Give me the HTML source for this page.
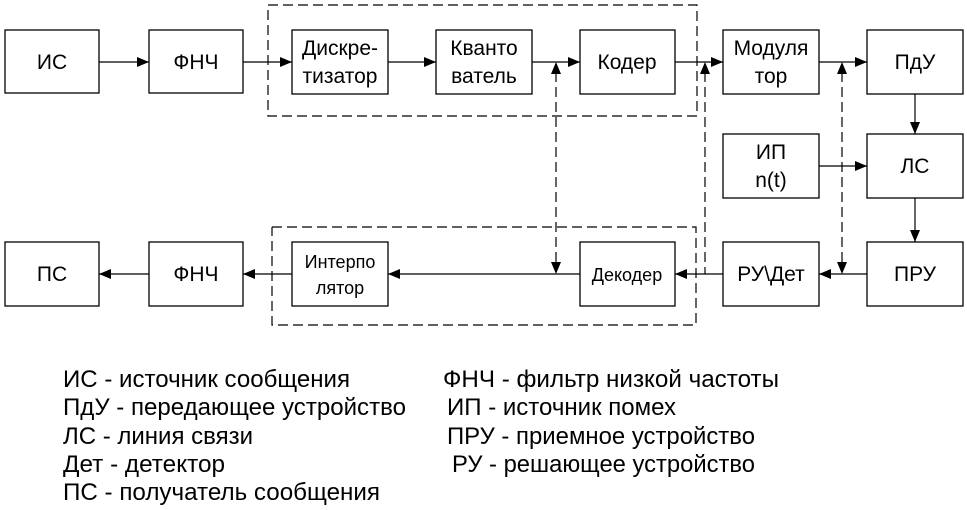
<!DOCTYPE html>
<html><head><meta charset="utf-8"><style>body{margin:0;background:#fff}svg{display:block}</style></head><body>
<svg width="967" height="510" viewBox="0 0 967 510" xmlns="http://www.w3.org/2000/svg" font-family="'Liberation Sans', 'DejaVu Sans', sans-serif">
<defs>
<marker id="a" markerWidth="12" markerHeight="10" refX="12" refY="5" orient="auto" markerUnits="userSpaceOnUse"><path d="M0,0 L12,5 L0,10 Z" fill="#000"/></marker>
</defs>
<g fill="#fff" stroke="#000" stroke-width="1.3">
<rect x="5" y="30" width="94" height="63"/>
<rect x="149" y="30" width="94" height="63"/>
<rect x="292" y="30" width="96" height="64"/>
<rect x="436" y="30" width="96" height="64"/>
<rect x="580" y="30" width="95" height="64"/>
<rect x="723" y="30" width="96" height="64"/>
<rect x="867" y="30" width="96" height="64"/>
<rect x="723" y="134" width="96" height="64"/>
<rect x="867" y="134" width="96" height="64"/>
<rect x="723" y="242" width="96" height="64"/>
<rect x="867" y="242" width="96" height="64"/>
<rect x="580" y="242" width="95" height="64"/>
<rect x="292" y="242" width="96" height="64"/>
<rect x="149" y="242" width="94" height="64"/>
<rect x="5" y="242" width="94" height="64"/>
</g>
<g stroke="#000" stroke-width="1.2" fill="none" stroke-dasharray="10,5">
<polyline points="268,5 697,5 697,116 268,116 268,5"/>
<polyline points="272,227 696,227 696,325 272,325 272,227"/>
</g>
<g stroke="#000" stroke-width="1.2" fill="none" marker-end="url(#a)">
<line x1="99" y1="62" x2="149" y2="62"/>
<line x1="243" y1="62" x2="292" y2="62"/>
<line x1="388" y1="62" x2="436" y2="62"/>
<line x1="532" y1="62" x2="580" y2="62"/>
<line x1="675" y1="62" x2="723" y2="62"/>
<line x1="819" y1="62" x2="867" y2="62"/>
<line x1="915" y1="94" x2="915" y2="134"/>
<line x1="819" y1="166" x2="867" y2="166"/>
<line x1="915" y1="198" x2="915" y2="242"/>
<line x1="867" y1="274" x2="819" y2="274"/>
<line x1="723" y1="274" x2="675" y2="274"/>
<line x1="580" y1="274" x2="388" y2="274"/>
<line x1="292" y1="274" x2="243" y2="274"/>
<line x1="149" y1="274" x2="99" y2="274"/>
</g>
<g stroke="#000" stroke-width="1.2" fill="none" stroke-dasharray="10,5">
<line x1="556" y1="72" x2="556" y2="264"/>
<line x1="705" y1="72" x2="705" y2="274"/>
<line x1="842" y1="72" x2="842" y2="264"/>
</g>
<g fill="#000">
<path d="M556,62 L551,74 L561,74 Z"/><path d="M556,274 L551,262 L561,262 Z"/>
<path d="M705,62 L700,74 L710,74 Z"/>
<path d="M842,62 L837,74 L847,74 Z"/><path d="M842,274 L837,262 L847,262 Z"/>
</g>
<g font-size="21" text-anchor="middle" fill="#000">
<text x="52" y="69">ИС</text>
<text x="196" y="69">ФНЧ</text>
<text x="340" y="55">Дискре-</text><text x="340" y="83">тизатор</text>
<text x="484" y="55">Кванто</text><text x="484" y="83">ватель</text>
<text x="627" y="69">Кодер</text>
<text x="771" y="55">Модуля</text><text x="771" y="83">тор</text>
<text x="915" y="69">ПдУ</text>
<text x="771" y="159">ИП</text><text x="771" y="187">n(t)</text>
<text x="915" y="173">ЛС</text>
<text x="771" y="281">РУ\Дет</text>
<text x="915" y="281">ПРУ</text>
<text x="627" y="281" font-size="18">Декодер</text>
<text x="340" y="268" font-size="18">Интерпо</text><text x="340" y="294" font-size="18">лятор</text>
<text x="196" y="281">ФНЧ</text>
<text x="52" y="281">ПС</text>
</g>
<g font-size="24" fill="#000">
<text x="63" y="387" textLength="287" lengthAdjust="spacingAndGlyphs">ИС - источник сообщения</text>
<text x="63" y="415" textLength="343" lengthAdjust="spacingAndGlyphs">ПдУ - передающее устройство</text>
<text x="63" y="444" textLength="190" lengthAdjust="spacingAndGlyphs">ЛС - линия связи</text>
<text x="63" y="472" textLength="162" lengthAdjust="spacingAndGlyphs">Дет - детектор</text>
<text x="63" y="500" textLength="317" lengthAdjust="spacingAndGlyphs">ПС - получатель сообщения</text>
<text x="443" y="387" textLength="336" lengthAdjust="spacingAndGlyphs">ФНЧ - фильтр низкой частоты</text>
<text x="447" y="415" textLength="229" lengthAdjust="spacingAndGlyphs">ИП - источник помех</text>
<text x="447" y="444" textLength="308" lengthAdjust="spacingAndGlyphs">ПРУ - приемное устройство</text>
<text x="452" y="472" textLength="303" lengthAdjust="spacingAndGlyphs">РУ - решающее устройство</text>
</g>
</svg>
</body></html>
